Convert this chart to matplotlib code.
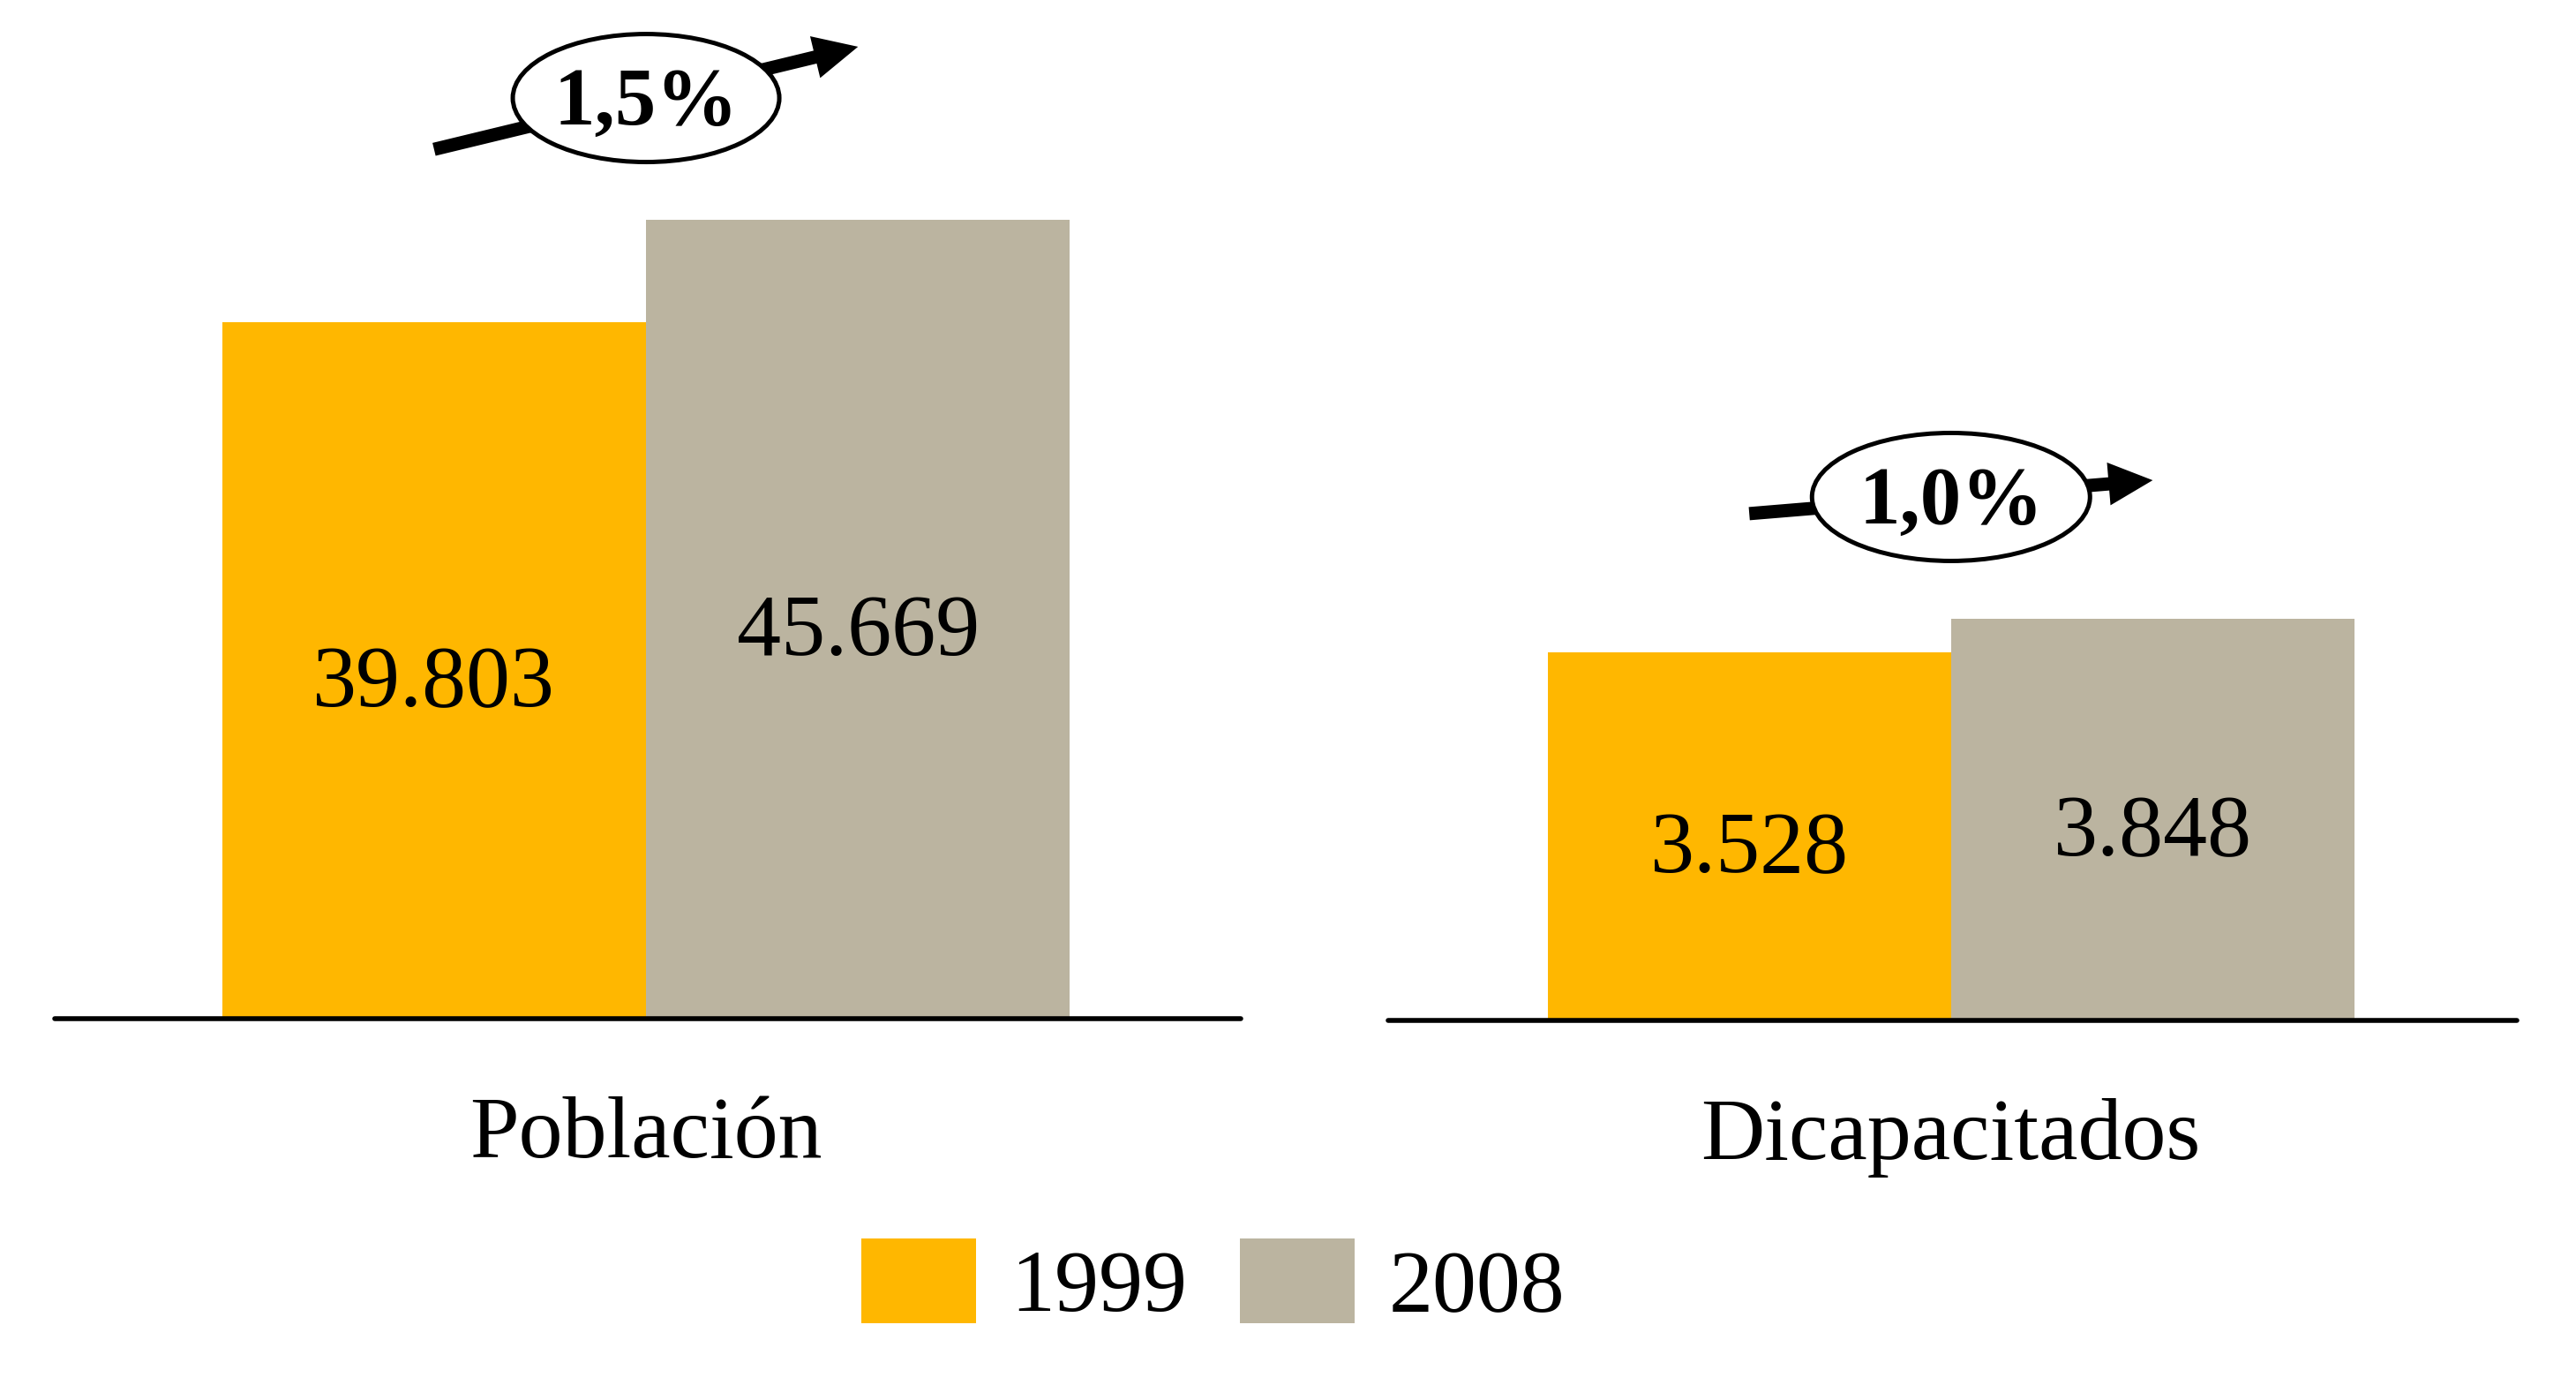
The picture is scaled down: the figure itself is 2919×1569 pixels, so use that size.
import matplotlib.pyplot as plt
from matplotlib.patches import Ellipse, FancyArrowPatch
from matplotlib.transforms import IdentityTransform

years = ['1999', '2008']
categorias = ['Población', 'Dicapacitados']
poblacion = [39803, 45669]       # miles
discapacitados = [3528, 3848]    # miles

colores = ['#FFB700', '#BBB4A0']

plt.rcParams['font.family'] = ['Liberation Serif', 'DejaVu Serif']


def miles(v):
    return '{:,}'.format(v).replace(',', '.')


def crecimiento(valores, n=9):
    # tasa anual media 1999-2008
    g = (valores[1] / valores[0]) ** (1.0 / n) - 1
    return '{:.1f}%'.format(g * 100).replace('.', ',')


def panel(ax, valores, nombre, ymax, subida, ancho):
    for i in range(2):
        ax.bar(i, valores[i], width=1.0, color=colores[i], label=years[i])
        ax.annotate(miles(valores[i]), xy=(i, valores[i] / 2.0), xytext=(0, -29.5),
                    textcoords='offset points', ha='center', va='baseline',
                    fontsize=72)
    ax.set_xlim(-0.895, 1.903)
    ax.set_ylim(0, ymax)
    for s in ['top', 'right', 'left']:
        ax.spines[s].set_visible(False)
    ax.spines['bottom'].set_linewidth(4)
    ax.spines['bottom'].set_capstyle('round')
    ax.set_xticks([])
    ax.set_yticks([])
    ax.annotate(nombre, xy=(0.5, 0), xytext=(0, -113), textcoords='offset points',
                ha='center', va='baseline', fontsize=72)

    # flecha y elipse con la tasa
    p0 = ax.transData.transform((0, valores[0]))
    p1 = ax.transData.transform((1, valores[1]))
    a = (p0[0], p0[1] + subida)
    b = (p1[0], p1[1] + subida)
    flecha = FancyArrowPatch(a, b, arrowstyle='simple,head_length=36,head_width=35,tail_width=10.8',
                             mutation_scale=1, fc='black', lw=0, shrinkA=0, shrinkB=0,
                             transform=IdentityTransform(), clip_on=False, zorder=5)
    ax.add_artist(flecha)
    cx = (a[0] + b[0]) / 2.0
    cy = (a[1] + b[1]) / 2.0
    elipse = Ellipse((cx, cy), ancho, 145, fc='white', ec='black', lw=3.6,
                     transform=IdentityTransform(), clip_on=False, zorder=6)
    ax.add_artist(elipse)
    ax.text(cx, cy - 30, crecimiento(valores), ha='center', va='baseline',
            fontsize=67, fontweight='bold', transform=IdentityTransform(),
            clip_on=False, zorder=7)


fig = plt.figure(figsize=(29.19, 15.69), dpi=100)
ax1 = fig.add_axes([0.0212, 0.2645, 0.4605, 0.7355])
ax2 = fig.add_axes([0.5389, 0.2632, 0.4382, 0.7368])

panel(ax1, poblacion, categorias[0], 58230, 196, 302)
panel(ax2, discapacitados, categorias[1], 9777, 157, 315)

h, l = ax1.get_legend_handles_labels()
fig.legend(h, l, loc='center', bbox_to_anchor=(0.471, 0.0727), ncol=2,
           frameon=False, fontsize=72, handlelength=1.3, handleheight=1.1,
           handletextpad=0.39, columnspacing=0.6, borderpad=0, borderaxespad=0)

plt.savefig('out.png', dpi=100)
